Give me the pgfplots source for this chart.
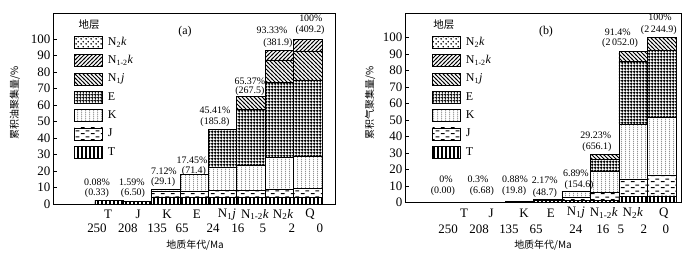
\documentclass[border=0pt]{standalone}
\usepackage{fontspec}
\setmainfont{Liberation Serif}
\newfontfamily\cjk{Noto Sans CJK SC}
\usepackage{pgfplots}
\pgfplotsset{compat=1.18}
\usetikzlibrary{patterns}

\pgfdeclarepatternformonly{Tpat}{\pgfqpoint{-1bp}{-1bp}}{\pgfqpoint{5bp}{5bp}}{\pgfqpoint{4bp}{4bp}}{%
  \pgfsetlinewidth{1.5bp}\pgfpathmoveto{\pgfqpoint{2bp}{-1bp}}\pgfpathlineto{\pgfqpoint{2bp}{5bp}}\pgfusepath{stroke}}
\pgfdeclarepatternformonly{Jpat}{\pgfqpoint{0bp}{0bp}}{\pgfqpoint{10bp}{6bp}}{\pgfqpoint{10bp}{6bp}}{%
  \pgfsetlinewidth{1.1bp}\pgfpathmoveto{\pgfqpoint{1bp}{1.5bp}}\pgfpathlineto{\pgfqpoint{5bp}{1.5bp}}%
  \pgfpathmoveto{\pgfqpoint{6bp}{4.5bp}}\pgfpathlineto{\pgfqpoint{10bp}{4.5bp}}\pgfusepath{stroke}}
\pgfdeclarepatternformonly{Kpat}{\pgfqpoint{0bp}{0bp}}{\pgfqpoint{4bp}{2.2bp}}{\pgfqpoint{4bp}{2.2bp}}{%
  \pgfpathcircle{\pgfqpoint{2bp}{1.1bp}}{0.55bp}\pgfusepath{fill}}
\pgfdeclarepatternformonly{Epat}{\pgfqpoint{0bp}{0bp}}{\pgfqpoint{3.2bp}{3.2bp}}{\pgfqpoint{3.2bp}{3.2bp}}{%
  \pgfsetlinewidth{0.85bp}\pgfpathcircle{\pgfqpoint{1.6bp}{1.6bp}}{1.05bp}\pgfusepath{stroke}}
\pgfdeclarepatternformonly{NWpat}{\pgfqpoint{-1bp}{-1bp}}{\pgfqpoint{5bp}{5bp}}{\pgfqpoint{4bp}{4bp}}{%
  \pgfsetlinewidth{1bp}\pgfpathmoveto{\pgfqpoint{-1bp}{5bp}}\pgfpathlineto{\pgfqpoint{5bp}{-1bp}}\pgfusepath{stroke}}
\pgfdeclarepatternformonly{NEpat}{\pgfqpoint{-1bp}{-1bp}}{\pgfqpoint{5bp}{5bp}}{\pgfqpoint{4bp}{4bp}}{%
  \pgfsetlinewidth{1bp}\pgfpathmoveto{\pgfqpoint{-1bp}{-1bp}}\pgfpathlineto{\pgfqpoint{5bp}{5bp}}\pgfusepath{stroke}}
\pgfdeclarepatternformonly{Npat}{\pgfqpoint{0bp}{0bp}}{\pgfqpoint{5bp}{5bp}}{\pgfqpoint{5bp}{5bp}}{%
  \pgfpathcircle{\pgfqpoint{1.25bp}{1.25bp}}{1bp}\pgfpathcircle{\pgfqpoint{3.75bp}{3.75bp}}{1bp}\pgfusepath{fill}}

\tikzset{
  ann/.style={font=\fontsize{10}{10}\selectfont,inner sep=0pt},
  age/.style={font=\fontsize{13}{13}\selectfont,inner sep=0pt},
}
\pgfplotsset{
  lg/.style={legend image code/.code={\draw[##1,draw=black,line width=0.7bp] (0bp,-6bp) rectangle (28bp,6bp);}},
  bars/.style={draw=black,line width=0.7bp,lg},
  panel/.style={
    scale only axis, clip=false,
    ybar stacked, bar width=1,
    ymin=0, ytick={0,10,...,100},
    ytick pos=left, tick align=inside, major tick length=4bp,
    axis line style={line width=0.9bp}, tick style={line width=0.8bp,black},
    /pgf/number format/assume math mode=true,
    yticklabel style={font=\fontsize{13}{13}\selectfont,inner sep=2.5bp},
    xtick style={draw=none},
    xticklabel style={anchor=center,yshift=-10.5bp,font=\fontsize{13}{13}\selectfont},
    legend cell align=left, reverse legend,
    legend style={draw=none,fill=none,inner sep=0pt,anchor=north west,
      font=\fontsize{12}{12}\selectfont,row sep=5.6bp,column sep=5bp,
      nodes={inner sep=0pt,text height=8bp,text depth=2.5bp}},
    xlabel style={anchor=center,font=\cjk\fontsize{10}{10}\selectfont},
    ylabel style={anchor=center,font=\cjk\fontsize{10}{10}\selectfont},
  },
}

\begin{document}
\begin{tikzpicture}
\useasboundingbox (0,0) rectangle (696bp,255bp);

% ---------------- panel (a)
\begin{axis}[panel,
  at={(53bp,51bp)}, anchor=south west, width=282bp, height=191bp,
  xmin=-1.48, xmax=8.46, ymax=115.8,
  xtick={0.46,1.52,2.54,3.59,4.65,5.64,6.63,7.58},
  xticklabels={T,J,K,E,N\textsubscript{1}\textit{j},N\textsubscript{1-2}\textit{k},N\textsubscript{2}\textit{k},Q},
  legend style={at={(0.0745,0.88)}},
  xlabel={地质年代/Ma}, xlabel style={at={(axis description cs:0.504,-0.215)}},
  ylabel={累积油聚集量/\%}, ylabel style={at={(axis description cs:-0.135,0.529)}},
]
\addplot[bars,pattern=Tpat] coordinates {(0.5,2.3)(1.5,1.6)(2.5,4.3)(3.5,4)(4.5,4)(5.5,4)(6.5,4)(7.5,4)};
\addlegendentry{T}
\addplot[bars,pattern=Jpat] coordinates {(0.5,0)(1.5,0)(2.5,3.2)(3.5,3.5)(4.5,4)(5.5,4.5)(6.5,5)(7.5,5.5)};
\addlegendentry{J}
\addplot[bars,pattern=Kpat] coordinates {(0.5,0)(1.5,0)(2.5,1.5)(3.5,10.5)(4.5,14.5)(5.5,15)(6.5,19)(7.5,19.5)};
\addlegendentry{K}
\addplot[bars,pattern=Epat] coordinates {(0.5,0)(1.5,0)(2.5,0)(3.5,0)(4.5,22.9)(5.5,34)(6.5,45.5)(7.5,46)};
\addlegendentry{E}
\addplot[bars,pattern=NWpat] coordinates {(0.5,0)(1.5,0)(2.5,0)(3.5,0)(4.5,0)(5.5,7.9)(6.5,13.8)(7.5,17.5)};
\addlegendentry{N\textsubscript{1}\textit{j}}
\addplot[bars,pattern=NEpat] coordinates {(0.5,0)(1.5,0)(2.5,0)(3.5,0)(4.5,0)(5.5,0)(6.5,6)(7.5,7.5)};
\addlegendentry{N\textsubscript{1-2}\textit{k}}
\addplot[bars,pattern=Npat] coordinates {(0.5,0)(1.5,0)(2.5,0)(3.5,0)(4.5,0)(5.5,0)(6.5,0)(7.5,0)};
\addlegendentry{N\textsubscript{2}\textit{k}}

\node[font=\cjk\fontsize{10.5}{10.5}\selectfont] at (axis description cs:0.128,0.937) {地层};
\node[font=\fontsize{12}{12}\selectfont] at (axis cs:3.17,104.4) {(a)};

\node[ann] at (axis cs:0.07,13.3) {0.08\%};
\node[ann] at (axis cs:0.07,6.7) {(0.33)};
\node[ann] at (axis cs:1.30,13.3) {1.59\%};
\node[ann] at (axis cs:1.34,6.7) {(6.50)};
\node[ann] at (axis cs:2.43,19.7) {7.12\%};
\node[ann] at (axis cs:2.40,13.3) {(29.1)};
\node[ann] at (axis cs:3.42,26.7) {17.45\%};
\node[ann] at (axis cs:3.49,19.7) {(71.4)};
\node[ann] at (axis cs:4.23,57) {45.41\%};
\node[ann] at (axis cs:4.23,49.7) {(185.8)};
\node[ann] at (axis cs:5.46,74.7) {65.37\%};
\node[ann] at (axis cs:5.46,68.7) {(267.5)};
\node[ann] at (axis cs:6.24,105.5) {93.33\%};
\node[ann] at (axis cs:6.45,97.8) {(381.9)};
\node[ann] at (axis cs:7.61,112.5) {100\%};
\node[ann] at (axis cs:7.58,105.5) {(409.2)};

\node[age] at (axis cs:0.07,-14.7) {250};
\node[age] at (axis cs:1.16,-14.7) {208};
\node[age] at (axis cs:2.19,-14.7) {135};
\node[age] at (axis cs:3.07,-14.7) {65};
\node[age] at (axis cs:4.16,-14.7) {24};
\node[age] at (axis cs:5.04,-14.7) {16};
\node[age] at (axis cs:5.92,-14.7) {5};
\node[age] at (axis cs:6.94,-14.7) {2};
\node[age] at (axis cs:7.93,-14.7) {0};
\end{axis}

% ---------------- panel (b)
\begin{axis}[panel,
  at={(405bp,52.5bp)}, anchor=south west, width=276bp, height=189.5bp,
  xmin=-1.51, xmax=8.18, ymax=114.8,
  xtick={0.56,1.51,2.67,3.61,4.49,5.47,6.49,7.58},
  xticklabels={T,J,K,E,N\textsubscript{1}\textit{j},N\textsubscript{1-2}\textit{k},N\textsubscript{2}\textit{k},Q},
  legend style={at={(0.098,0.879)}},
  xlabel={地质年代/Ma}, xlabel style={at={(axis description cs:0.5,-0.224)}},
  ylabel={累积气聚集量/\%}, ylabel style={at={(axis description cs:-0.127,0.525)}},
]
\addplot[bars,pattern=Tpat] coordinates {(0.5,0)(1.5,0.3)(2.5,0.88)(3.5,1)(4.5,1.5)(5.5,1.5)(6.5,3.5)(7.5,4)};
\addlegendentry{T}
\addplot[bars,pattern=Jpat] coordinates {(0.5,0)(1.5,0)(2.5,0)(3.5,1.17)(4.5,1.5)(5.5,4.5)(6.5,10.5)(7.5,12.5)};
\addlegendentry{J}
\addplot[bars,pattern=Kpat] coordinates {(0.5,0)(1.5,0)(2.5,0)(3.5,0)(4.5,3.89)(5.5,13)(6.5,33.6)(7.5,35)};
\addlegendentry{K}
\addplot[bars,pattern=Epat] coordinates {(0.5,0)(1.5,0)(2.5,0)(3.5,0)(4.5,0)(5.5,7)(6.5,37.7)(7.5,40.5)};
\addlegendentry{E}
\addplot[bars,pattern=NWpat] coordinates {(0.5,0)(1.5,0)(2.5,0)(3.5,0)(4.5,0)(5.5,3.23)(6.5,6.1)(7.5,8)};
\addlegendentry{N\textsubscript{1}\textit{j}}
\addplot[bars,pattern=NEpat] coordinates {(0.5,0)(1.5,0)(2.5,0)(3.5,0)(4.5,0)(5.5,0)(6.5,0)(7.5,0)};
\addlegendentry{N\textsubscript{1-2}\textit{k}}
\addplot[bars,pattern=Npat] coordinates {(0.5,0)(1.5,0)(2.5,0)(3.5,0)(4.5,0)(5.5,0)(6.5,0)(7.5,0)};
\addlegendentry{N\textsubscript{2}\textit{k}}

\node[font=\cjk\fontsize{10.5}{10.5}\selectfont] at (axis description cs:0.141,0.937) {地层};
\node[font=\fontsize{12}{12}\selectfont] at (axis cs:3.44,103.5) {(b)};

\node[ann] at (axis cs:-0.07,14.2) {0\%};
\node[ann] at (axis cs:-0.18,7.0) {(0.00)};
\node[ann] at (axis cs:1.05,14.2) {0.3\%};
\node[ann] at (axis cs:1.19,7.0) {(6.68)};
\node[ann] at (axis cs:2.35,14.2) {0.88\%};
\node[ann] at (axis cs:2.32,7.0) {(19.8)};
\node[ann] at (axis cs:3.40,13.6) {2.17\%};
\node[ann] at (axis cs:3.40,5.8) {(48.7)};
\node[ann] at (axis cs:4.49,17.9) {6.89\%};
\node[ann] at (axis cs:4.60,10.6) {(154.6)};
\node[ann] at (axis cs:5.19,40.9) {29.23\%};
\node[ann] at (axis cs:5.23,33.8) {(656.1)};
\node[ann] at (axis cs:5.96,102.9) {91.4\%};
\node[ann] at (axis cs:6.04,96.5) {(2\,052.0)};
\node[ann] at (axis cs:7.44,112.2) {100\%};
\node[ann] at (axis cs:7.40,104.5) {(2\,244.9)};

\node[age] at (axis cs:0,-16.2) {250};
\node[age] at (axis cs:1.09,-16.2) {208};
\node[age] at (axis cs:2.14,-16.2) {135};
\node[age] at (axis cs:3.09,-16.2) {65};
\node[age] at (axis cs:4.49,-16.2) {24};
\node[age] at (axis cs:5.44,-16.2) {16};
\node[age] at (axis cs:6.07,-16.2) {5};
\node[age] at (axis cs:6.88,-16.2) {2};
\node[age] at (axis cs:7.65,-16.2) {0};
\end{axis}
\end{tikzpicture}
\end{document}
